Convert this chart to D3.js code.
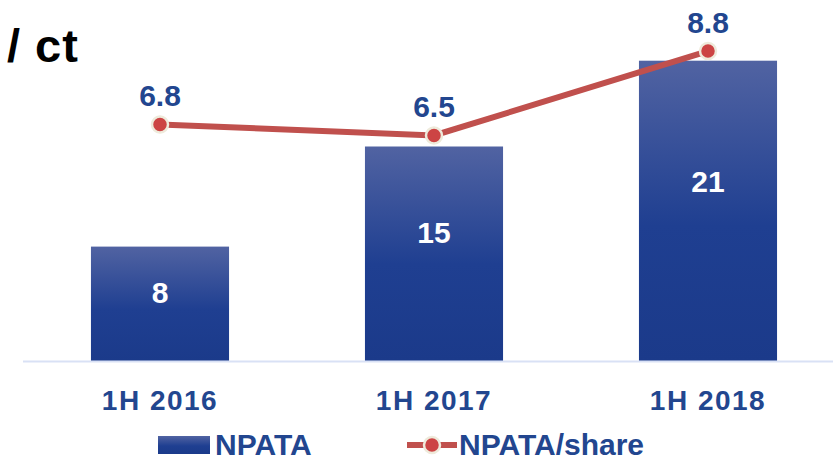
<!DOCTYPE html>
<html>
<head>
<meta charset="utf-8">
<script src="https://cdn.jsdelivr.net/npm/d3@7"></script>
<style>
  body { margin: 0; background: #fff; }
  svg { display: block; font-family: "Liberation Sans", Arial, sans-serif; font-weight: bold; }
</style>
</head>
<body>
<svg width="833" height="460"></svg>
<script>
// data
const periods = ['1H 2016', '1H 2017', '1H 2018'];
const npata = [8, 15, 21];
const npataPerShare = [6.8, 6.5, 8.8];

const svg = d3.select('svg');
const blue = '#22468f';
const red = '#c0504d';

// scales
const x = d3.scaleBand()
    .domain(periods)
    .range([23, 845])
    .paddingInner(0.496)
    .paddingOuter(0.248);
const yBar = d3.scaleLinear().domain([0, 25]).range([361, 3.5]);
const yLine = d3.scaleLinear().domain([0, 10]).range([374, 7]);

// bar gradient
const grad = svg.append('defs').append('linearGradient')
    .attr('id', 'barGrad')
    .attr('x1', 0).attr('y1', 0).attr('x2', 0).attr('y2', 1);
grad.append('stop').attr('offset', '0%').attr('stop-color', '#5163a2');
grad.append('stop').attr('offset', '55%').attr('stop-color', '#1f3f91');
grad.append('stop').attr('offset', '100%').attr('stop-color', '#1b3a8a');

// title
svg.append('text')
    .attr('x', 7).attr('y', 62)
    .attr('font-size', 47)
    .attr('letter-spacing', 1)
    .attr('fill', '#000')
    .text('/ ct');

// bars
svg.append('g').selectAll('rect')
  .data(npata)
  .enter().append('rect')
    .attr('x', (d, i) => x(periods[i]))
    .attr('y', d => yBar(d))
    .attr('width', x.bandwidth())
    .attr('height', d => yBar(0) - yBar(d))
    .attr('fill', 'url(#barGrad)');

// axis line
svg.append('line')
    .attr('x1', 23).attr('x2', 833)
    .attr('y1', 361.5).attr('y2', 361.5)
    .attr('stroke', '#d9e1f5')
    .attr('stroke-width', 2);

// bar labels
svg.append('g').selectAll('text')
  .data(npata)
  .enter().append('text')
    .attr('x', (d, i) => x(periods[i]) + x.bandwidth() / 2)
    .attr('y', d => yBar(d) + 0.4 * (yBar(0) - yBar(d)) + 11)
    .attr('text-anchor', 'middle')
    .attr('font-size', 30)
    .attr('fill', '#fff')
    .text(d => d);

// category labels
svg.append('g').selectAll('text')
  .data(periods)
  .enter().append('text')
    .attr('x', d => x(d) + x.bandwidth() / 2)
    .attr('y', 410)
    .attr('text-anchor', 'middle')
    .attr('font-size', 28)
    .attr('letter-spacing', 1.5)
    .attr('fill', blue)
    .text(d => d);

// line
const line = d3.line()
    .x((d, i) => x(periods[i]) + x.bandwidth() / 2)
    .y(d => yLine(d));

svg.append('path')
    .datum(npataPerShare)
    .attr('d', line)
    .attr('fill', 'none')
    .attr('stroke', red)
    .attr('stroke-width', 6);

svg.append('g').selectAll('circle')
  .data(npataPerShare)
  .enter().append('circle')
    .attr('cx', (d, i) => x(periods[i]) + x.bandwidth() / 2)
    .attr('cy', d => yLine(d))
    .attr('r', 8)
    .attr('fill', '#cc4444')
    .attr('stroke', '#eeeadb')
    .attr('stroke-width', 2.5);

svg.append('g').selectAll('text')
  .data(npataPerShare)
  .enter().append('text')
    .attr('x', (d, i) => x(periods[i]) + x.bandwidth() / 2)
    .attr('y', d => yLine(d) - 18)
    .attr('text-anchor', 'middle')
    .attr('font-size', 30)
    .attr('fill', blue)
    .text(d => d3.format('.1f')(d));

// legend
const legend = svg.append('g');
legend.append('rect')
    .attr('x', 158).attr('y', 436)
    .attr('width', 52).attr('height', 18)
    .attr('fill', 'url(#barGrad)');
legend.append('text')
    .attr('x', 215).attr('y', 455)
    .attr('font-size', 30)
    .attr('fill', blue)
    .text('NPATA');
legend.append('line')
    .attr('x1', 407).attr('x2', 457)
    .attr('y1', 445).attr('y2', 445)
    .attr('stroke', red)
    .attr('stroke-width', 6);
legend.append('circle')
    .attr('cx', 432).attr('cy', 445)
    .attr('r', 8)
    .attr('fill', '#cc4444')
    .attr('stroke', '#eeeadb')
    .attr('stroke-width', 2.5);
legend.append('text')
    .attr('x', 459).attr('y', 455)
    .attr('font-size', 30)
    .attr('fill', blue)
    .text('NPATA/share');
</script>
</body>
</html>
